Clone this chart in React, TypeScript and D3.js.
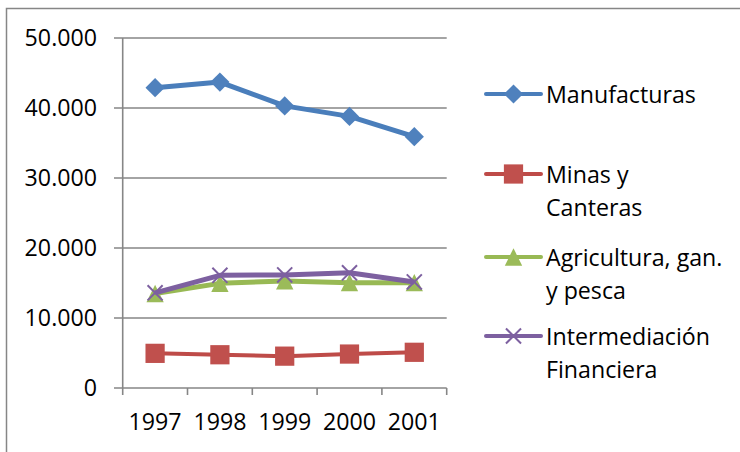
import * as d3 from "d3";

const years = ["1997", "1998", "1999", "2000", "2001"];
const manufacturas = [42900, 43700, 40300, 38800, 35900];
const minas = [4950, 4750, 4550, 4850, 5100];
const agricultura = [13500, 14950, 15300, 15050, 15050];
const intermediacion = [13600, 16100, 16150, 16450, 15150];
const yTicks = [0, 10000, 20000, 30000, 40000, 50000];

const WIDTH = 740;
const HEIGHT = 452;
const FONT = "'Open Sans', sans-serif";
const FONT_SIZE = 23.2;

// excel-ish number format: 50.000
const fmt = (v: number) => (v === 0 ? "0" : d3.format(",")(v).replace(/,/g, "."));

const triangle = {
	draw(ctx: any, size: number) {
		const w = Math.sqrt(size);
		ctx.moveTo(0, -w / 2);
		ctx.lineTo(w / 2, w / 2);
		ctx.lineTo(-w / 2, w / 2);
		ctx.closePath();
	},
};

const series = [
	{ name: ["Manufacturas"], values: manufacturas, line: "#4a7ebb", fill: "#4f81bd", width: 5, kind: "diamond" },
	{ name: ["Minas y", "Canteras"], values: minas, line: "#be4b48", fill: "#c0504d", width: 4, kind: "square" },
	{ name: ["Agricultura, gan.", "y pesca"], values: agricultura, line: "#98b954", fill: "#9bbb59", width: 5, kind: "triangle" },
	{ name: ["Intermediación", "Financiera"], values: intermediacion, line: "#7d60a0", fill: "#8064a2", width: 5, kind: "x" },
];

const legendY = [94, 174, 257, 336];

function Marker({ kind, x, y, fill, stroke }: { kind: string; x: number; y: number; fill: string; stroke: string }) {
	if (kind === "x") {
		const p = d3.symbol(d3.symbolX, 150)();
		return <path d={p ?? ""} transform={`translate(${x},${y})`} fill="none" stroke={stroke} strokeWidth={2} />;
	}
	if (kind === "diamond") {
		const p = d3.symbol(d3.symbolSquare, 185)();
		return <path d={p ?? ""} transform={`translate(${x},${y}) rotate(45)`} fill={fill} />;
	}
	if (kind === "square") {
		const p = d3.symbol(d3.symbolSquare, 370)();
		return <path d={p ?? ""} transform={`translate(${x},${y})`} fill={fill} />;
	}
	const p = d3.symbol(triangle as any, 300)();
	return <path d={p ?? ""} transform={`translate(${x},${y})`} fill={fill} />;
}

export default function App() {
	const x = d3.scaleBand<string>().domain(years).range([122.7, 446.7]);
	const y = d3.scaleLinear().domain([0, 50000]).range([388, 38]);
	const cx = (yr: string) => (x(yr) ?? 0) + x.bandwidth() / 2;
	const lineGen = d3
		.line<number>()
		.x((_, i) => cx(years[i]))
		.y((d) => y(d));

	const bounds = years.map((yr) => x(yr) ?? 0).concat([x.range()[1]]);

	return (
		<svg
			width={WIDTH}
			height={HEIGHT}
			style={{ position: "absolute", left: 0, top: 0 }}
			fontFamily={FONT}
			fontSize={FONT_SIZE}
		>
			<rect x={0} y={0} width={WIDTH} height={HEIGHT} fill="#fff" />
			<rect x={6.5} y={8.5} width={WIDTH + 20} height={HEIGHT + 20} fill="none" stroke="#868686" strokeWidth={1.5} />

			{/* gridlines + y labels */}
			{yTicks.map((t) => (
				<g key={t}>
					<line x1={114} x2={446.7} y1={y(t)} y2={y(t)} stroke="#868686" strokeWidth={1.6} />
					<text x={97} y={y(t)} dy="0.36em" textAnchor="end" fill="#000">
						{fmt(t)}
					</text>
				</g>
			))}
			<line x1={122.7} x2={122.7} y1={y(50000)} y2={y(0) + 7} stroke="#868686" strokeWidth={1.6} />
			{bounds.slice(1).map((b, i) => (
				<line key={i} x1={b} x2={b} y1={y(0)} y2={y(0) + 7} stroke="#868686" strokeWidth={1.6} />
			))}
			{years.map((yr) => (
				<text key={yr} x={cx(yr)} y={421.5} dy="0.36em" textAnchor="middle" fill="#000">
					{yr}
				</text>
			))}

			{/* series */}
			{series.map((s) => (
				<g key={s.name[0]}>
					<path d={lineGen(s.values) ?? ""} fill="none" stroke={s.line} strokeWidth={s.width} strokeLinejoin="round" />
					{s.values.map((v, i) => (
						<Marker key={i} kind={s.kind} x={cx(years[i])} y={y(v)} fill={s.fill} stroke={s.line} />
					))}
				</g>
			))}

			{/* legend */}
			{series.map((s, i) => (
				<g key={s.name[0]}>
					<line x1={486} x2={541} y1={legendY[i]} y2={legendY[i]} stroke={s.line} strokeWidth={4} strokeLinecap="round" />
					<Marker kind={s.kind} x={513.5} y={legendY[i]} fill={s.fill} stroke={s.line} />
					{s.name.map((ln, j) => (
						<text key={j} x={546} y={legendY[i] + 1 + j * 32.5} dy="0.36em" fill="#000">
							{ln}
						</text>
					))}
				</g>
			))}
		</svg>
	);
}
